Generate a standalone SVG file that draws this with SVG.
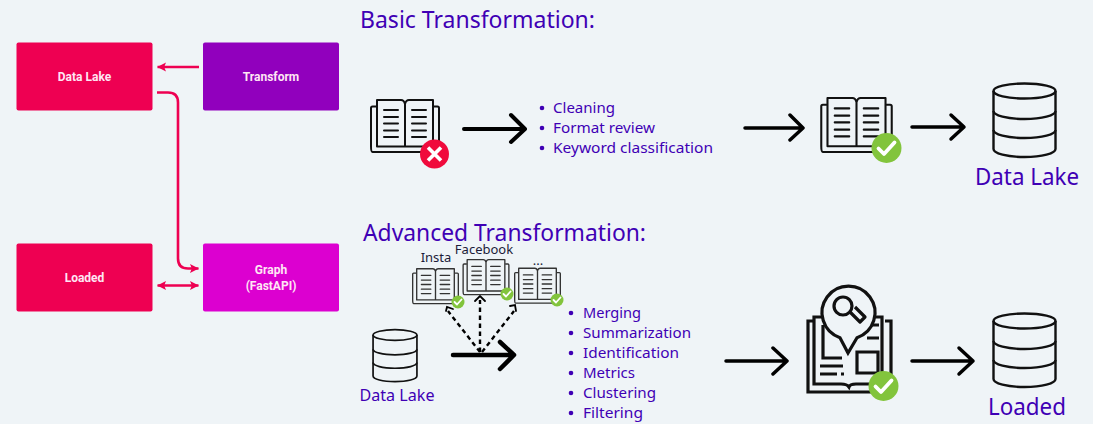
<svg xmlns="http://www.w3.org/2000/svg" width="1093" height="424" viewBox="0 0 1093 424">
<style>
.box{stroke:none}
.bt{font:700 12px Roboto,"Liberation Sans",sans-serif;fill:#ffe6f4;text-anchor:middle}
.h{font:400 23px "Noto Sans","Open Sans",sans-serif;fill:#3f00b5}
.li{font:400 15px "Noto Sans","Open Sans",sans-serif;fill:#3f00b5}
.lab{font:400 23px "Noto Sans","Open Sans",sans-serif;fill:#3f00b5;text-anchor:middle}
.sm{font:400 13px "Noto Sans","Open Sans",sans-serif;fill:#1c1c3a;text-anchor:middle}
.pink{fill:none;stroke:#ee0052;stroke-width:2.6}
.bk{fill:none;stroke:#000;stroke-linecap:round;stroke-linejoin:round}
.dash{fill:none;stroke:#000;stroke-width:2.4;stroke-dasharray:4.5 3.5}
.head{fill:none;stroke:#000;stroke-width:1.8;stroke-linecap:round}
.ok{fill:#82c43c}
.tick{fill:none;stroke:#fff;stroke-linecap:round;stroke-linejoin:round}
</style>
<defs>
<marker id="ph" markerWidth="9" markerHeight="10" refX="8.5" refY="5" orient="auto-start-reverse" markerUnits="userSpaceOnUse"><path d="M0 0.5L8.800 5L0 9.500L1.800 5Z" fill="#ee0052"/></marker>
<symbol id="book" viewBox="0 0 70 55" overflow="visible">
<g fill="none" stroke="currentColor" stroke-width="2" stroke-linejoin="round">
<path d="M6.500 7.500H2.500Q1 7.500 1 9V47.500Q1 53 2.500 53H67.500Q69 53 69 47.500V9Q69 7.500 67.500 7.500H63.500"/>
<path d="M7 1H31Q34 1 35 5Q36 1 39 1H63V47.500H7ZM35 5V47.500"/>
<path d="M14 11H28M14 18H28M14 24.500H28M14 31.500H28M14 38H28M42 11H56M42 18H56M42 24.500H56M42 31.500H56M42 38H56" stroke-linecap="round"/>
</g>
</symbol>
<symbol id="db" viewBox="0 0 65 76" overflow="visible">
<g fill="none" stroke="currentColor" stroke-width="2.400">
<ellipse cx="32.500" cy="9" rx="31" ry="7.500"/>
<path d="M1.500 9V67C1.500 71.500 15 75 32.500 75S63.500 71.500 63.500 67V9"/>
<path d="M1.500 29C1.500 33.500 15 37 32.500 37S63.500 33.500 63.500 29M1.500 48C1.500 52.500 15 56 32.500 56S63.500 52.500 63.500 48"/>
</g>
</symbol>
</defs>
<rect width="1093" height="424" fill="#eff4f7"/>

<g id="connectors">
<path class="pink" d="M199 67H157.500" marker-end="url(#ph)"/>
<path class="pink" d="M157 92.500H168Q178 92.500 178 102.500V258.500Q178 268.500 188 268.500H198.500" marker-end="url(#ph)"/>
<path class="pink" d="M157.500 285.500H198.500" marker-start="url(#ph)" marker-end="url(#ph)"/>
<g id="arrows-black" class="bk">
<path stroke-width="4" d="M464 129H524M511 115L525 129L511 142"/>
<path stroke-width="3.500" d="M745 128H802M790 115L803 128L790 140"/>
<path stroke-width="3.500" d="M912 127H963M951 115L964 127L951 139"/>
<path stroke-width="4.500" d="M453 355H513M500 342L514 355L500 369"/>
<path stroke-width="3.500" d="M726 361H786M773 348L787 361L773 374"/>
<path stroke-width="3.500" d="M912 361H973M959 348L973 361L959 374"/>
</g>
<path class="dash" d="M480 352L448 311"/>
<path class="dash" d="M480 352V300"/>
<path class="dash" d="M482 352L514 311"/>
<path class="head" d="M446 311L447 307L453 309"/>
<path class="head" d="M475 301L480 296L485 301"/>
<path class="head" d="M510 306L515 305L516 311"/>
</g>

<g id="n-datalake"><rect class="box" x="16.500" y="42.500" width="136" height="68" rx="2" fill="#ee0052"/><text class="bt" x="84.500" y="81">Data Lake</text></g>
<g id="n-transform"><rect class="box" x="203" y="42.500" width="136" height="68" rx="2" fill="#9100bd"/><text class="bt" x="271" y="81">Transform</text></g>
<g id="n-loaded"><rect class="box" x="16.500" y="243.500" width="136" height="68" rx="2" fill="#ee0052"/><text class="bt" x="84.500" y="282">Loaded</text></g>
<g id="n-graph"><rect class="box" x="203" y="243.500" width="136" height="68" rx="2" fill="#dc00d0"/><text class="bt" x="271" y="274">Graph</text><text class="bt" x="271" y="290">(FastAPI)</text></g>

<g id="t-basic"><text class="h" x="360" y="28" textLength="235" lengthAdjust="spacingAndGlyphs">Basic Transformation:</text></g>
<g id="n-book-bad">
<use href="#book" x="370" y="99" width="70" height="55" color="#111"/>
<circle cx="434.500" cy="154" r="14.500" fill="#f00a3c"/>
<path d="M428 147.500L441 160.500M441 147.500L428 160.500" stroke="#fff" stroke-width="3.600" fill="none"/>
</g>
<g id="n-list-basic" class="li">
<circle cx="542" cy="108" r="2.300" fill="#3f00b5"/><circle cx="542" cy="128" r="2.300" fill="#3f00b5"/><circle cx="542" cy="148" r="2.300" fill="#3f00b5"/>
<text class="li" x="553" y="113" textLength="62" lengthAdjust="spacingAndGlyphs">Cleaning</text>
<text class="li" x="553" y="133" textLength="102" lengthAdjust="spacingAndGlyphs">Format review</text>
<text class="li" x="553" y="153" textLength="160" lengthAdjust="spacingAndGlyphs">Keyword classification</text>
</g>
<g id="n-book-good">
<use href="#book" x="820" y="97" width="73" height="57" color="#111"/>
<circle cx="886.500" cy="148" r="15" class="ok"/>
<path class="tick" stroke-width="3.800" d="M878.500 148.500L884 154L894.500 142.500"/>
</g>
<g id="n-db-lake">
<use href="#db" x="992" y="82" width="65" height="76" color="#111"/>
<text class="lab" x="1027" y="185" textLength="104" lengthAdjust="spacingAndGlyphs">Data Lake</text>
</g>

<g id="t-adv"><text class="h" x="363" y="241" textLength="283" lengthAdjust="spacingAndGlyphs">Advanced Transformation:</text></g>
<g id="n-insta">
<text class="sm" x="436" y="262">Insta</text>
<use href="#book" x="412" y="268" width="47" height="37" color="#333"/>
<circle cx="458" cy="302" r="6.500" class="ok"/><path class="tick" stroke-width="1.800" d="M454.500 302L457 304.500L461.500 299.500"/>
</g>
<g id="n-facebook">
<text class="sm" x="484" y="254">Facebook</text>
<use href="#book" x="462" y="259" width="48" height="37" color="#333"/>
<circle cx="507" cy="294" r="6.500" class="ok"/><path class="tick" stroke-width="1.800" d="M503.500 294L506 296.500L510.500 291.500"/>
</g>
<g id="n-more">
<text class="sm" x="538" y="265">...</text>
<use href="#book" x="514" y="267" width="47" height="38" color="#333"/>
<circle cx="557" cy="300" r="6.500" class="ok"/><path class="tick" stroke-width="1.800" d="M553.500 300L556 302.500L560.500 297.500"/>
</g>
<g id="n-db-small">
<use href="#db" x="372" y="328" width="46" height="55" color="#111"/>
<text class="sm" x="397" y="401" style="font-size:16px;fill:#3f00b5" textLength="75" lengthAdjust="spacingAndGlyphs">Data Lake</text>
</g>
<g id="n-list-adv">
<g fill="#3f00b5"><circle cx="571" cy="313" r="2.300"/><circle cx="571" cy="333" r="2.300"/><circle cx="571" cy="353" r="2.300"/><circle cx="571" cy="373" r="2.300"/><circle cx="571" cy="393" r="2.300"/><circle cx="571" cy="413" r="2.300"/></g>
<text class="li" x="583" y="318" textLength="58" lengthAdjust="spacingAndGlyphs">Merging</text>
<text class="li" x="583" y="338" textLength="108" lengthAdjust="spacingAndGlyphs">Summarization</text>
<text class="li" x="583" y="358" textLength="96" lengthAdjust="spacingAndGlyphs">Identification</text>
<text class="li" x="583" y="378" textLength="52" lengthAdjust="spacingAndGlyphs">Metrics</text>
<text class="li" x="583" y="398" textLength="73" lengthAdjust="spacingAndGlyphs">Clustering</text>
<text class="li" x="583" y="418" textLength="60" lengthAdjust="spacingAndGlyphs">Filtering</text>
</g>
<g id="n-book-search" fill="none" stroke="#111" stroke-width="3.200">
<path d="M814 321H808V392H891V321H885"/>
<path d="M814 317H882V384H856Q850 384 849 387Q847 384 841 384H814Z"/>
<path d="M823 325V358H842M820 366H843M820 374H837M841 374H844M867 325H879M867 338H879M857 352V373H878V352Z"/>
<path d="M848 353L840 337.700A26.500 26.500 0 1 1 857 337.700Z" fill="#eff4f7"/>
<circle cx="843" cy="306" r="9"/>
<path d="M850 312L860 322L865 317L855 307" stroke-linejoin="round"/>
<circle cx="883.500" cy="386" r="15" class="ok" stroke="none"/>
<path class="tick" stroke-width="3.800" d="M875.500 386.500L881 392L891.500 380.500"/>
</g>
<g id="n-db-loaded">
<use href="#db" x="992" y="312" width="65" height="76" color="#111"/>
<text class="lab" x="1027" y="415" textLength="78" lengthAdjust="spacingAndGlyphs">Loaded</text>
</g>
</svg>
